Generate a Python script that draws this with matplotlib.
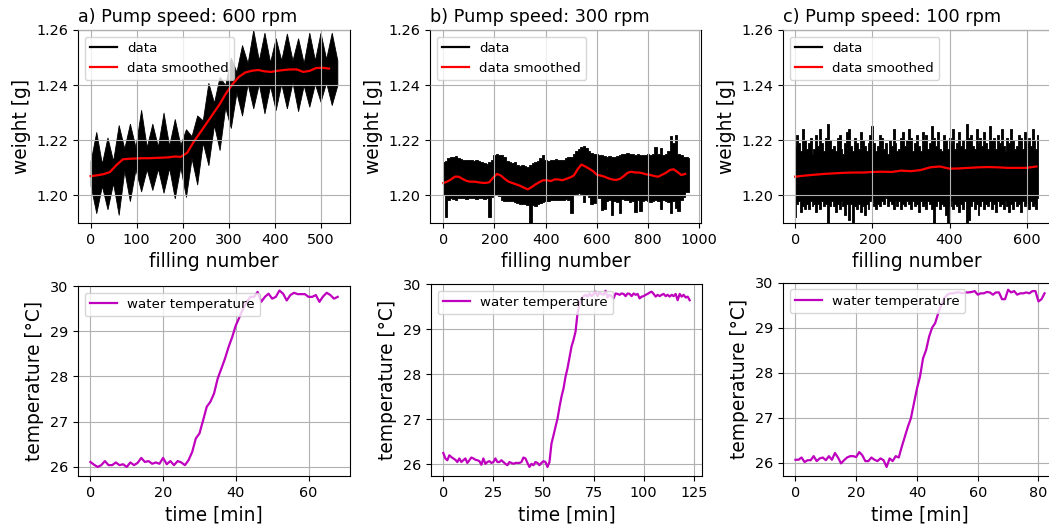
import numpy as np
import matplotlib
matplotlib.use("Agg")
import matplotlib.pyplot as plt
from matplotlib.lines import Line2D

# ---- weight data, 600 rpm: envelope read at waist / lobe centre, alternating ----
a_hi = [1.2125, 1.223, 1.2115, 1.221, 1.2125, 1.2255, 1.217, 1.226, 1.2175, 1.231,
        1.2175, 1.226, 1.2177, 1.230, 1.218, 1.2277, 1.2183, 1.224, 1.2215, 1.229,
        1.2272, 1.2408, 1.2336, 1.243, 1.240, 1.250, 1.2448, 1.2545, 1.248, 1.260,
        1.249, 1.259, 1.2483, 1.257, 1.249, 1.2587, 1.249, 1.257, 1.248, 1.259,
        1.249, 1.259, 1.2495, 1.259, 1.249]
a_lo = [1.2035, 1.1936, 1.2035, 1.195, 1.2045, 1.193, 1.209, 1.198, 1.2095, 1.2015,
        1.2095, 1.202, 1.2097, 1.201, 1.210, 1.199, 1.2103, 1.1995, 1.2135, 1.204,
        1.2192, 1.211, 1.2256, 1.2165, 1.232, 1.2245, 1.2373, 1.229, 1.2405, 1.2316,
        1.2405, 1.2298, 1.2398, 1.231, 1.2405, 1.2316, 1.241, 1.2306, 1.240, 1.2322,
        1.2405, 1.234, 1.241, 1.2328, 1.240]
a_end = 536
a_smooth = [1.2070, 1.2073, 1.2077, 1.2085, 1.2110, 1.2131, 1.2133, 1.2134, 1.2135, 1.2135,
            1.2136, 1.2137, 1.2138, 1.2141, 1.2140, 1.2155, 1.2195, 1.2228, 1.2262, 1.2296,
            1.2330, 1.2370, 1.2403, 1.2430, 1.2446, 1.2452, 1.2455, 1.2450, 1.2448, 1.2452,
            1.2455, 1.2457, 1.2457, 1.2448, 1.2452, 1.2462, 1.2463, 1.2460]
a_smooth_end = 518

# ---- weight data, 300 rpm: envelope every 10 fillings ----
b_hi = [1.2120, 1.2125, 1.2135, 1.2138, 1.2140, 1.2142, 1.2135, 1.2132, 1.2130, 1.2128,
        1.2130, 1.2128, 1.2125, 1.2128, 1.2125, 1.2120, 1.2118, 1.2115, 1.2120, 1.2130,
        1.2145, 1.2150, 1.2148, 1.2145, 1.2140, 1.2125, 1.2120, 1.2118, 1.2120, 1.2112,
        1.2105, 1.2110, 1.2105, 1.2102, 1.2112, 1.2118, 1.2120, 1.2125, 1.2135, 1.2145,
        1.2128, 1.2125, 1.2130, 1.2128, 1.2132, 1.2130, 1.2128, 1.2130, 1.2135, 1.2138,
        1.2140, 1.2150, 1.2160, 1.2168, 1.2175, 1.2180, 1.2172, 1.2162, 1.2155, 1.2150,
        1.2152, 1.2148, 1.2145, 1.2142, 1.2140, 1.2142, 1.2138, 1.2140, 1.2142, 1.2145,
        1.2150, 1.2152, 1.2155, 1.2152, 1.2150, 1.2148, 1.2150, 1.2148, 1.2145, 1.2148,
        1.2150, 1.2145, 1.2150, 1.2175, 1.2150, 1.2172, 1.2148, 1.2150, 1.2160, 1.2215,
        1.2190, 1.2220, 1.2150, 1.2145, 1.2140, 1.2138, 1.2135]
b_lo = [1.2000, 1.1920, 1.1985, 1.1990, 1.1988, 1.1985, 1.1990, 1.1992, 1.1990, 1.1988,
        1.1990, 1.1992, 1.1990, 1.1988, 1.1990, 1.1992, 1.1988, 1.1990, 1.1920, 1.1995,
        1.2000, 1.2000, 1.1998, 1.1982, 1.1980, 1.1978, 1.1978, 1.1980, 1.1975, 1.1972,
        1.1970, 1.1968, 1.1970, 1.1965, 1.1900, 1.1965, 1.1962, 1.1968, 1.1972, 1.1975,
        1.1978, 1.1980, 1.1982, 1.1985, 1.1983, 1.1985, 1.1982, 1.1985, 1.1988, 1.1985,
        1.1938, 1.2000, 1.2005, 1.2010, 1.2005, 1.1975, 1.2000, 1.1995, 1.1970, 1.1972,
        1.1995, 1.1990, 1.1948, 1.1950, 1.1980, 1.1982, 1.1930, 1.1980, 1.1975, 1.1935,
        1.1988, 1.1985, 1.1982, 1.1975, 1.1980, 1.1940, 1.1985, 1.1945, 1.1978, 1.1982,
        1.1980, 1.1975, 1.1980, 1.1985, 1.1980, 1.1950, 1.1985, 1.1980, 1.1975, 1.1935,
        1.1980, 1.1955, 1.1945, 1.1985, 1.1995, 1.2012, 1.2014]
b_end = 960
b_smooth = [1.2045, 1.2050, 1.2058, 1.2068, 1.2068, 1.2060, 1.2053, 1.2050, 1.2050, 1.2048,
            1.2046, 1.2045, 1.2048, 1.2065, 1.2078, 1.2072, 1.2060, 1.2050, 1.2045, 1.2040,
            1.2035, 1.2028, 1.2022, 1.2030, 1.2040, 1.2048, 1.2055, 1.2055, 1.2052, 1.2058,
            1.2058, 1.2055, 1.2060, 1.2065, 1.2072, 1.2095, 1.2112, 1.2105, 1.2097, 1.2088,
            1.2075, 1.2072, 1.2068, 1.2062, 1.2058, 1.2056, 1.2060, 1.2070, 1.2082, 1.2086,
            1.2083, 1.2083, 1.2080, 1.2076, 1.2074, 1.2070, 1.2068, 1.2075, 1.2082, 1.2092,
            1.2095, 1.2085, 1.2074, 1.2078]
b_smooth_end = 945

# ---- weight data, 100 rpm: envelope every 5 fillings ----
c_hi = [1.218, 1.222, 1.219, 1.216, 1.224, 1.220, 1.217, 1.219, 1.221, 1.215,
        1.217, 1.222, 1.218, 1.224, 1.219, 1.216, 1.221, 1.226, 1.220, 1.217,
        1.218, 1.216, 1.221, 1.222, 1.217, 1.215, 1.219, 1.223, 1.224, 1.218,
        1.216, 1.221, 1.219, 1.217, 1.223, 1.220, 1.218, 1.216, 1.219, 1.222,
        1.225, 1.219, 1.216, 1.218, 1.222, 1.221, 1.217, 1.219, 1.215, 1.220,
        1.218, 1.224, 1.219, 1.216, 1.217, 1.221, 1.223, 1.218, 1.220, 1.224,
        1.221, 1.216, 1.219, 1.222, 1.218, 1.216, 1.223, 1.220, 1.222, 1.217,
        1.219, 1.225, 1.221, 1.218, 1.223, 1.217, 1.216, 1.222, 1.220, 1.217,
        1.221, 1.219, 1.224, 1.217, 1.219, 1.223, 1.218, 1.220, 1.217, 1.226,
        1.221, 1.222, 1.218, 1.217, 1.224, 1.219, 1.221, 1.218, 1.223, 1.219,
        1.217, 1.225, 1.220, 1.221, 1.217, 1.222, 1.219, 1.224, 1.218, 1.216,
        1.221, 1.219, 1.224, 1.220, 1.217, 1.218, 1.222, 1.221, 1.217, 1.223,
        1.219, 1.221, 1.218, 1.224, 1.220, 1.217, 1.222]
c_lo = [1.192, 1.197, 1.198, 1.194, 1.196, 1.195, 1.197, 1.195, 1.198, 1.196,
        1.197, 1.194, 1.197, 1.195, 1.198, 1.196, 1.197, 1.190, 1.196, 1.198,
        1.196, 1.194, 1.197, 1.195, 1.198, 1.196, 1.193, 1.197, 1.191, 1.197,
        1.190, 1.196, 1.195, 1.197, 1.194, 1.196, 1.193, 1.197, 1.195, 1.198,
        1.199, 1.196, 1.195, 1.197, 1.196, 1.198, 1.197, 1.199, 1.196, 1.198,
        1.197, 1.195, 1.198, 1.196, 1.198, 1.195, 1.197, 1.196, 1.198, 1.197,
        1.195, 1.198, 1.196, 1.197, 1.194, 1.198, 1.196, 1.197, 1.195, 1.198,
        1.197, 1.195, 1.190, 1.196, 1.198, 1.195, 1.197, 1.196, 1.193, 1.190,
        1.196, 1.198, 1.195, 1.197, 1.196, 1.194, 1.197, 1.195, 1.198, 1.190,
        1.191, 1.196, 1.198, 1.195, 1.197, 1.193, 1.196, 1.198, 1.195, 1.197,
        1.196, 1.198, 1.195, 1.197, 1.194, 1.198, 1.196, 1.197, 1.195, 1.198,
        1.196, 1.194, 1.197, 1.195, 1.198, 1.196, 1.197, 1.194, 1.198, 1.196,
        1.197, 1.195, 1.198, 1.196, 1.197, 1.195, 1.199]
c_end = 630
c_smooth = [1.2068, 1.2072, 1.2075, 1.2078, 1.2080, 1.2082, 1.2083, 1.2083, 1.2085, 1.2086,
            1.2085, 1.2090, 1.2088, 1.2092, 1.2102, 1.2105, 1.2097, 1.2098, 1.2100, 1.2102,
            1.2103, 1.2102, 1.2100, 1.2100, 1.2100, 1.2105]
c_smooth_end = 625

# ---- water temperature, one reading per minute ----
temp_a = [26.11, 26.05, 26.00, 26.04, 26.13, 26.04, 26.04, 26.10, 26.04, 26.06,
          26.00, 26.10, 26.04, 26.09, 26.20, 26.11, 26.13, 26.07, 26.10, 26.07,
          26.20, 26.06, 26.13, 26.04, 26.13, 26.10, 26.04, 26.15, 26.33, 26.63,
          26.74, 27.03, 27.33, 27.44, 27.62, 27.95, 28.17, 28.39, 28.65, 28.87,
          29.13, 29.31, 29.50, 29.65, 29.76, 29.76, 29.87, 29.65, 29.76, 29.83,
          29.72, 29.76, 29.90, 29.83, 29.68, 29.80, 29.85, 29.82, 29.82, 29.82,
          29.76, 29.76, 29.80, 29.65, 29.77, 29.85, 29.80, 29.72, 29.76]
temp_b = [26.25, 26.13, 26.09, 26.20, 26.16, 26.13, 26.10, 26.05, 26.13, 26.05,
          26.09, 26.13, 26.03, 26.09, 26.15, 26.13, 26.10, 26.09, 26.07, 25.99,
          26.13, 26.01, 26.05, 26.07, 26.03, 26.05, 26.13, 26.05, 26.05, 26.09,
          26.05, 26.01, 25.98, 26.05, 26.03, 26.01, 26.03, 26.03, 26.03, 26.05,
          26.15, 26.13, 26.03, 25.94, 26.01, 25.98, 26.05, 26.03, 25.98, 26.03,
          26.07, 26.05, 25.94, 26.05, 26.46, 26.64, 26.83, 27.01, 27.27, 27.50,
          27.68, 27.94, 28.13, 28.37, 28.61, 28.76, 28.94, 29.35, 29.57, 29.68,
          29.73, 29.76, 29.72, 29.79, 29.73, 29.78, 29.83, 29.73, 29.81, 29.78,
          29.76, 29.85, 29.70, 29.76, 29.73, 29.68, 29.79, 29.78, 29.76, 29.79,
          29.78, 29.73, 29.79, 29.78, 29.73, 29.79, 29.76, 29.78, 29.68, 29.72,
          29.73, 29.76, 29.78, 29.81, 29.83, 29.78, 29.72, 29.76, 29.73, 29.76,
          29.78, 29.73, 29.76, 29.72, 29.76, 29.73, 29.78, 29.64, 29.78, 29.72,
          29.76, 29.70, 29.72, 29.64]
temp_c = [26.07, 26.07, 26.12, 26.02, 26.06, 26.06, 26.15, 26.04, 26.10, 26.12,
          26.06, 26.15, 26.07, 26.22, 26.12, 25.99, 26.06, 26.12, 26.15, 26.15,
          26.13, 26.24, 26.17, 26.04, 26.04, 26.12, 26.07, 26.04, 26.10, 26.06,
          25.91, 26.10, 26.04, 26.15, 26.12, 26.36, 26.58, 26.80, 26.99, 27.32,
          27.65, 27.91, 28.32, 28.50, 28.80, 29.00, 29.10, 29.32, 29.50, 29.65,
          29.73, 29.76, 29.76, 29.78, 29.78, 29.76, 29.78, 29.78, 29.79, 29.81,
          29.73, 29.76, 29.76, 29.79, 29.78, 29.73, 29.78, 29.78, 29.63, 29.63,
          29.84, 29.78, 29.81, 29.73, 29.76, 29.76, 29.78, 29.76, 29.81, 29.81,
          29.58, 29.63, 29.76]

titles = ["a) Pump speed: 600 rpm", "b) Pump speed: 300 rpm", "c) Pump speed: 100 rpm"]

W, H = 1049, 528
fig = plt.figure(figsize=(W / 100, H / 100), dpi=100)


def add_axes_px(left, right, top, bottom):
    return fig.add_axes([left / W, 1 - bottom / H, (right - left) / W, (bottom - top) / H])


TICK_FS = 10.4
LABEL_FS = 13.4
TITLE_FS = 12.7
LEGEND_FS = 9.6

top_specs = [
    (a_hi, a_lo, a_end, a_smooth, a_smooth_end, None, (78, 350), (-27.5, 563.5)),
    (b_hi, b_lo, b_end, b_smooth, b_smooth_end, "mid", (430, 701), (-52, 1007)),
    (c_hi, c_lo, c_end, c_smooth, c_smooth_end, "mid", (783, 1050.5), (-31.5, 661.5)),
]

for title, (hi, lo, end, sm, sm_end, step, (l, r), xlim) in zip(titles, top_specs):
    ax = add_axes_px(l, r, 30, 223)
    x = np.linspace(0, end, len(hi))
    ax.fill_between(x, lo, hi, step=step, color="k", linewidth=0.6)
    xs = np.linspace(0, sm_end, len(sm))
    ax.plot(xs, sm, color="r", linewidth=1.6)
    ax.set_xlim(*xlim)
    ax.set_ylim(1.19, 1.26)
    ax.set_yticks([1.20, 1.22, 1.24, 1.26])
    ax.set_title(title, loc="left", fontsize=TITLE_FS)
    ax.set_xlabel("filling number", fontsize=LABEL_FS)
    ax.set_ylabel("weight [g]", fontsize=LABEL_FS)
    ax.tick_params(labelsize=TICK_FS)
    ax.grid(True)
    ax.set_axisbelow(False)
    handles = [Line2D([], [], color="k", linewidth=1.6),
               Line2D([], [], color="r", linewidth=1.6)]
    ax.legend(handles, ["data", "data smoothed"], loc="upper left", fontsize=LEGEND_FS)

bottom_specs = [
    (temp_a, (78, 350, 286, 476), (-3.4, 71.4), 25.8, [0, 20, 40, 60]),
    (temp_b, (431, 702, 284, 476), (-6.15, 129.15), 25.74, [0, 25, 50, 75, 100, 125]),
    (temp_c, (783, 1057, 282.5, 476), (-4.1, 86.1), 25.71, [0, 20, 40, 60, 80]),
]

for temp, (l, r, t, b), xlim, ybot, xticks in bottom_specs:
    ax = add_axes_px(l, r, t, b)
    minutes = np.arange(len(temp))
    ax.plot(minutes, temp, color="m", linewidth=1.6, label="water temperature")
    ax.set_xlim(*xlim)
    ax.set_ylim(ybot, 30)
    ax.set_xticks(xticks)
    ax.set_yticks([26, 27, 28, 29, 30])
    ax.set_xlabel("time [min]", fontsize=LABEL_FS)
    ax.set_ylabel("temperature [°C]", fontsize=LABEL_FS)
    ax.tick_params(labelsize=TICK_FS)
    ax.grid(True)
    ax.legend(loc="upper left", fontsize=LEGEND_FS)

fig.savefig("out.png", dpi=100)
